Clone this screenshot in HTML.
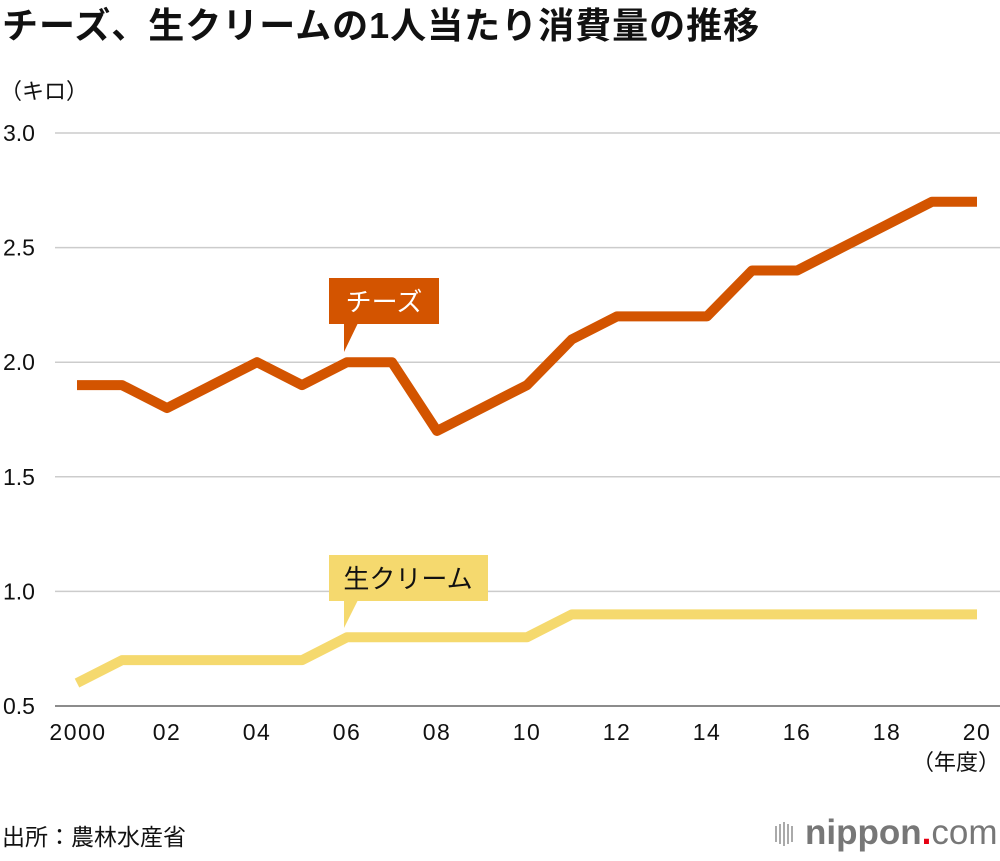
<!DOCTYPE html>
<html><head><meta charset="utf-8"><style>
body{margin:0;width:1000px;height:856px;background:#fff;font-family:"Liberation Sans","Noto Sans CJK JP",sans-serif;overflow:hidden}
</style></head><body>
<svg width="1000" height="856" xmlns="http://www.w3.org/2000/svg" font-family="Liberation Sans, Noto Sans CJK JP, sans-serif">
<text x="2" y="38" font-size="36" font-weight="bold" fill="#111" letter-spacing="1">チーズ、生クリームの1人当たり消費量の推移</text>
<text x="0" y="99" font-size="22" fill="#111">（キロ）</text>
<g id="grid"></g><g id="series"></g>
<g>
<rect x="329" y="278" width="110" height="46" fill="#d35400"/><polygon points="344,323 358,323 344,352" fill="#d35400"/>
<text x="384" y="311" font-size="26" fill="#fff" text-anchor="middle">チーズ</text></g>
<g>
<rect x="329" y="555" width="159" height="46" fill="#f5d96e"/><polygon points="344,600 358,600 344,628" fill="#f5d96e"/>
<text x="408" y="588" font-size="26" fill="#111" text-anchor="middle">生クリーム</text></g>
<text x="1000" y="770" font-size="22" fill="#111" text-anchor="end">（年度）</text>
<text x="2" y="845" font-size="23" fill="#111">出所：農林水産省</text>
<g>
<g fill="#aaa"><rect x="775" y="826" width="2" height="16"/><rect x="779" y="824" width="2" height="20"/><rect x="783" y="822" width="2" height="24"/><rect x="787" y="824" width="2" height="20"/><rect x="791" y="826" width="2" height="16"/></g>
<text x="805" y="844" font-size="35" fill="#777"><tspan font-weight="bold">nippon</tspan><tspan fill="#e60012" font-weight="bold">.</tspan><tspan>com</tspan></text></g>
</svg>
<script>
const years=[2000,2001,2002,2003,2004,2005,2006,2007,2008,2009,2010,2011,2012,2013,2014,2015,2016,2017,2018,2019,2020];
const cheese=[1.9,1.9,1.8,1.9,2.0,1.9,2.0,2.0,1.7,1.8,1.9,2.1,2.2,2.2,2.2,2.4,2.4,2.5,2.6,2.7,2.7];
const cream=[0.6,0.7,0.7,0.7,0.7,0.7,0.8,0.8,0.8,0.8,0.8,0.9,0.9,0.9,0.9,0.9,0.9,0.9,0.9,0.9,0.9];
const yTicks=[0.5,1.0,1.5,2.0,2.5,3.0];
const xTickYears=[2000,2002,2004,2006,2008,2010,2012,2014,2016,2018,2020];
const xTickLabels=["2000","02","04","06","08","10","12","14","16","18","20"];
const NS="http://www.w3.org/2000/svg";
const x=v=>77+(v-2000)*45;
const y=v=>706-(v-0.5)*229.2;
const grid=document.getElementById('grid'),ser=document.getElementById('series');
yTicks.forEach(t=>{
 const l=document.createElementNS(NS,'line');
 
 
 l.setAttribute('x1',55);l.setAttribute('x2',1000);l.setAttribute('y1',y(t));l.setAttribute('y2',y(t));
 l.setAttribute('stroke',t===0.5?'#666':'#ccc');l.setAttribute('stroke-width',1.5);
 grid.appendChild(l);
 const tx=document.createElementNS(NS,'text');
 
 
 tx.setAttribute('x',3);tx.setAttribute('y',y(t)+8);tx.setAttribute('font-size','23');tx.setAttribute('fill','#111');
 tx.textContent=t.toFixed(1);grid.appendChild(tx);
});
xTickYears.forEach((yr,i)=>{
 const tx=document.createElementNS(NS,'text');
 
 
 tx.setAttribute('x',i===0?x(yr)+1:x(yr));tx.setAttribute('y',740);tx.setAttribute('font-size','23');tx.setAttribute('fill','#111');tx.setAttribute('text-anchor','middle');
 tx.setAttribute('letter-spacing','1.5');
 tx.textContent=xTickLabels[i];grid.appendChild(tx);
});
function line(vals,color,name){
 const p=document.createElementNS(NS,'polyline');
 
 
 p.setAttribute('points',vals.map((v,i)=>x(years[i])+','+y(v)).join(' '));
 p.setAttribute('fill','none');p.setAttribute('stroke',color);p.setAttribute('stroke-width','10');p.setAttribute('stroke-linejoin','round');
 ser.appendChild(p);
}
line(cream,'#f5d96e','cream-line');
line(cheese,'#d35400','cheese-line');
</script>
</body></html>
